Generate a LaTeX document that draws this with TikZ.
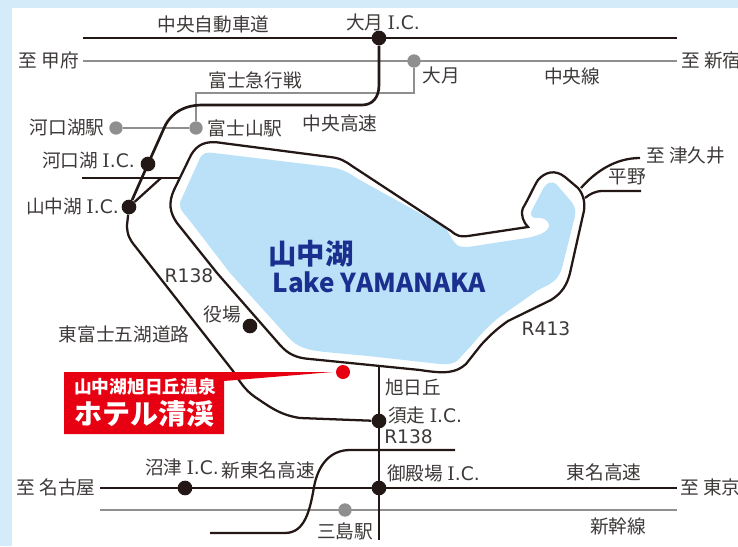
\documentclass[tikz,border=0pt]{standalone}
\usepackage{fontspec}
\setmainfont{Noto Sans CJK JP}
\newfontfamily\latinf{DejaVu Sans}
\newfontfamily\serif{DejaVu Serif}
\newcommand{\IC}{{\serif I}{\latinf .C.}}
\definecolor{bgblue}{HTML}{D4ECFA}
\definecolor{lakeblue}{HTML}{BAE1F8}
\definecolor{roadk}{HTML}{231815}
\definecolor{railg}{HTML}{8F8F8F}
\definecolor{txt}{HTML}{3E3A39}
\definecolor{navy}{HTML}{1A2F8E}
\definecolor{hotelred}{HTML}{E60012}
\tikzset{
  road/.style={draw=roadk,line width=2pt},
  thinroad/.style={draw=roadk,line width=1.7pt},
  rail/.style={draw=railg,line width=2pt},
  lbl/.style={text=txt,font=\fontsize{14}{14}\selectfont,inner sep=0pt},
  icdot/.style={circle,fill=roadk,minimum size=11pt,inner sep=0pt},
  stdot/.style={circle,fill=railg,minimum size=10pt,inner sep=0pt},
}
\begin{document}
\begin{tikzpicture}[x=0.75pt,y=-0.75pt]
\useasboundingbox (0,0) rectangle (738,546);
\clip (0,0) rectangle (738,546);
\fill[bgblue] (0,0) rectangle (738,546);
\fill[white] (12,8) rectangle (738,546);
% lake
\fill[lakeblue] (200,158) .. controls (203,153) and (206,152) .. (214,153) -- (330,167)
 .. controls (342,169) and (348,172) .. (358,179) -- (443,226)
 .. controls (449,230) and (450,238) .. (455,243) .. controls (458,247) and (462,247) .. (468,247)
 -- (520,239) .. controls (535,237) and (548,233) .. (549,226) .. controls (549,219) and (541,217) .. (536,218)
 .. controls (531,218) and (530,214) .. (532,210) -- (543,189) .. controls (547,182) and (552,180) .. (557,185)
 -- (570,200) .. controls (575,206) and (576,210) .. (575,216) -- (562,268)
 .. controls (558,282) and (548,285) .. (538,290) -- (501,316) .. controls (490,324) and (482,333) .. (470,347)
 -- (458,360) .. controls (452,365) and (448,364) .. (440,364) -- (368,356) -- (325,352)
 .. controls (308,350) and (298,348) .. (288,337) -- (230,273) -- (187,217)
 .. controls (180,210) and (178,205) .. (182,198) -- cycle;
% lake shore road
\draw[thinroad] (528,227) -- (468,236) .. controls (460,237) and (457,236) .. (451,231) -- (352,166)
 .. controls (345,161) and (340,158) .. (330,157) -- (222,143) .. controls (205,140) and (197,145) .. (191,155)
 -- (174,190) .. controls (168,203) and (170,213) .. (177,223) -- (217,273) -- (280,345)
 .. controls (288,354) and (296,358) .. (310,359) -- (420,370) .. controls (445,374) and (456,373) .. (466,364)
 -- (481,345) .. controls (490,335) and (498,328) .. (508,321) -- (551,300)
 .. controls (562,293) and (567,285) .. (570,273) -- (583,215) .. controls (586,205) and (584,195) .. (578,188)
 -- (565,177) .. controls (555,169) and (545,172) .. (538,180) .. controls (534,186) and (530,196) .. (523,208)
 .. controls (520,215) and (524,223) .. (528,227) -- cycle;
% nodes on roads
\node[icdot] (oic) at (379,38) {};
\node[stdot] (ost) at (414,61) {};
\node[stdot] (kst) at (116,128) {};
\node[stdot] (fst) at (196,128) {};
\node[icdot] (kic) at (148,164) {};
\node[icdot] (yic) at (129,207) {};
\node[icdot] (yak) at (250,326) {};
\node[icdot] (sic) at (379,421) {};
\node[icdot] (gic) at (379,488) {};
\node[icdot] (nic) at (185,488) {};
\node[stdot] (mst) at (345,510) {};
\coordinate (cw) at (83,38); \coordinate (ce) at (677,38);
\coordinate (rw) at (83,61); \coordinate (re) at (677,61);
\coordinate (tw) at (100,488); \coordinate (te) at (677,488);
\coordinate (sw) at (100,510); \coordinate (se) at (677,510);
\coordinate (jw) at (82,178); \coordinate (je) at (180,178); \coordinate (jm) at (161,178);
\coordinate (vt) at (379,366); \coordinate (vb) at (379,540);
% rails
\draw[rail] (rw) -- (re);
\draw[rail] (sw) -- (se);
\draw[rail] (ost) -- (414,93) -- (196,93) -- (fst);
\draw[rail] (kst) -- (fst);
% roads
\draw[road] (cw) -- (ce);
\draw[road] (tw) -- (te);
\draw[road] (oic) -- (379,85) .. controls (379,98) and (372,105) .. (362,105) -- (203,105)
  .. controls (185,105) and (172,112) .. (165,126) -- (148,164) -- (yic);
\draw[road,line width=1.7pt] (jw) -- (je);
\draw[road,line width=1.7pt] (jm) -- (yic);
\draw[thinroad] (yic) -- (127,225) .. controls (127,235) and (130,240) .. (135,246) -- (233,371)
  .. controls (240,382) and (245,390) .. (255,397) .. controls (270,407) and (280,415) .. (300,418) -- (sic);
\draw[road] (vt) -- (vb);
\draw[road,line width=1.7pt] (455,450) -- (350,450) .. controls (330,450) and (318,465) .. (314,487)
  .. controls (310,510) and (305,533) .. (285,533) -- (210,533);
\draw[thinroad] (581,188) .. controls (595,172) and (615,158) .. (640,158);
\draw[thinroad] (585,198) .. controls (590,194) and (595,191) .. (603,191) -- (641,191);
% hotel callout
\fill[hotelred] (64,372) -- (333,372) -- (224,381) -- (224,434) -- (64,434) -- cycle;
\node[circle,fill=hotelred,minimum size=10.5pt,inner sep=0pt] (hdot) at (343,372) {};
\node[inner sep=0pt,text=white,font=\fontsize{13.3}{13.3}\selectfont\bfseries] (h1) at (145,387) {山中湖旭日丘温泉};
\node[inner sep=0pt,text=white,font=\fontsize{21}{21}\selectfont\bfseries] (h2) at (144,414) {ホテル清渓};
% lake label
\node[inner sep=0pt,text=navy,font=\fontsize{21.3}{21.3}\selectfont\bfseries] (l1) at (311,254) {山中湖};
\node[inner sep=0pt,text=navy,font=\fontsize{19.5}{19.5}\selectfont\bfseries] (l2) at (379,282) {Lake YAMANAKA};
% labels
\node[lbl] (a1) at (213.5,24) {中央自動車道};
\node[lbl] (a2) at (383,22) {大月 \IC};
\node[lbl] (a3) at (49,60) {至 甲府};
\node[lbl,anchor=west] (a4) at (681,60) {至 新宿};
\node[lbl] (a5) at (441,75) {大月};
\node[lbl] (a6) at (572,76) {中央線};
\node[lbl] (a7) at (255,80) {富士急行戦};
\node[lbl] (a8) at (67,128) {河口湖駅};
\node[lbl] (a9) at (245,128) {富士山駅};
\node[lbl] (a10) at (340,123) {中央高速};
\node[lbl,anchor=east] (a11) at (135,161) {河口湖 \IC};
\node[lbl,anchor=east] (a12) at (119,206) {山中湖 \IC};
\node[lbl,anchor=west] (a13) at (646,155) {至 津久井};
\node[lbl] (a14) at (627,177) {平野};
\node[lbl] (a15) at (189,276) {\latinf R138};
\node[lbl] (a16) at (222,314) {役場};
\node[lbl] (a17) at (124,334) {東富士五湖道路};
\node[lbl] (a18) at (413,387) {旭日丘};
\node[lbl,anchor=west] (a19) at (388,415) {須走 \IC};
\node[lbl,anchor=west] (a20) at (384,437) {\latinf R138};
\node[lbl,anchor=west] (a21) at (387,473) {御殿場 \IC};
\node[lbl] (a22) at (604,472) {東名高速};
\node[lbl,anchor=west] (a23) at (680,487) {至 東京};
\node[lbl] (a24) at (56,487) {至 名古屋};
\node[lbl] (a25) at (182,467) {沼津 \IC};
\node[lbl] (a26) at (268,470) {新東名高速};
\node[lbl] (a27) at (345,531) {三島駅};
\node[lbl] (a28) at (618,526) {新幹線};
\node[lbl] (a29) at (546,329) {\latinf R413};
\end{tikzpicture}
\end{document}
